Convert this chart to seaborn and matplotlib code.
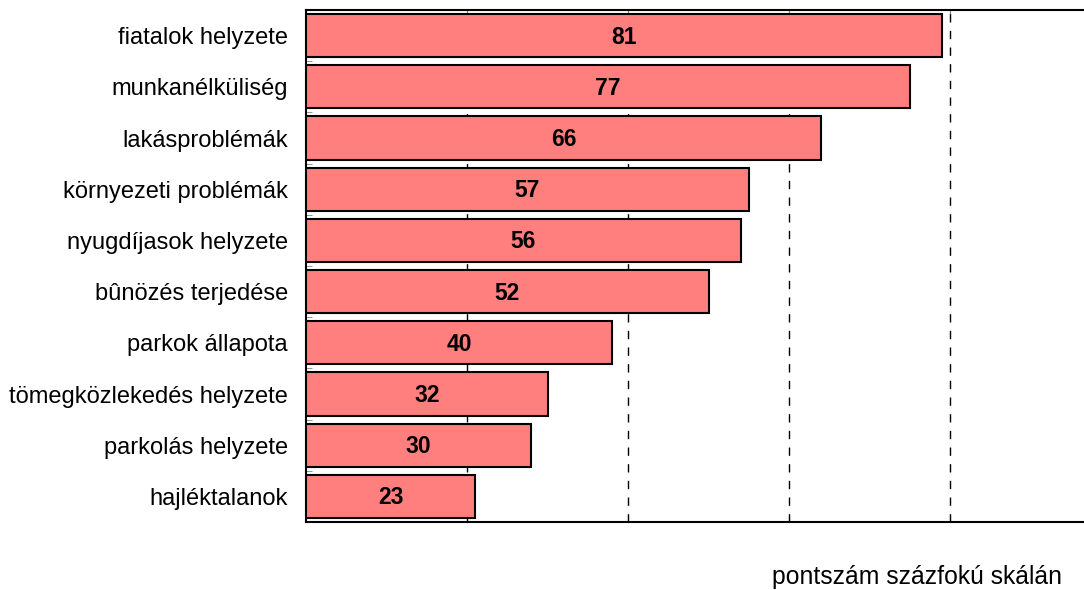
import numpy as np
import matplotlib
matplotlib.use("Agg")
import matplotlib.pyplot as plt
import seaborn as sns

# ----------------------------------------------------------
# data
# ----------------------------------------------------------
categories = ['fiatalok helyzete', 'munkanélküliség', 'lakásproblémák',
              'környezeti problémák', 'nyugdíjasok helyzete', 'bûnözés terjedése',
              'parkok állapota', 'tömegközlekedés helyzete', 'parkolás helyzete',
              'hajléktalanok']
scores = [81, 77, 66, 57, 56, 52, 40, 32, 30, 23]
grid_at = [22, 42, 62, 82]

# ----------------------------------------------------------
# plot
# ----------------------------------------------------------
sns.set_style("white")
plt.rcParams['font.family'] = ['Liberation Sans', 'DejaVu Sans']
plt.rcParams['text.color'] = 'black'
plt.rcParams['ytick.labelcolor'] = 'black'

fig = plt.figure(figsize=(10.84, 5.90), dpi=100)
ax = fig.add_axes([306 / 1084, 1 - 522 / 590, (1084 - 306) / 1084, 512 / 590])

sns.barplot(x=scores, y=categories, orient='h', color='#ff7f7f', saturation=1,
            edgecolor='black', linewidth=1.5, width=0.84, ax=ax, zorder=2)

for i, v in enumerate(scores):
    ax.text((2 + v) / 2, i + 0.03, str(v), ha='center', va='center',
            fontsize=16.5, fontweight='bold', color='black', zorder=3)

ax.set_xlim(2, 2 + (1084 - 306) / 8.05)
ax.set_ylim(len(categories) - 0.5, -0.5)
ax.set_xticks(grid_at)
ax.set_xticklabels([])
for g in grid_at:
    ax.axvline(g, color='black', ls=(0, (6, 6)), lw=1, zorder=1)
ax.tick_params(axis='x', direction='in', length=4, color='gray', top=True, bottom=True)
ax.tick_params(axis='y', length=0, labelsize=17, pad=13, labelcolor='black')
ax.set_yticks(np.arange(0.5, len(categories) - 1, 1), minor=True)
ax.tick_params(axis='y', which='minor', direction='in', length=4, color='gray', left=True)

for s in ['left', 'top', 'bottom']:
    ax.spines[s].set_color('black')
    ax.spines[s].set_linewidth(1.5)
ax.spines['right'].set_visible(False)

ax.set_xlabel('')
ax.set_ylabel('')
fig.text(1062 / 1084, 1 - 577 / 590, 'pontszám százfokú skálán', ha='right',
         va='center', fontsize=17.8, color='black')

plt.savefig('out.png', dpi=100)
